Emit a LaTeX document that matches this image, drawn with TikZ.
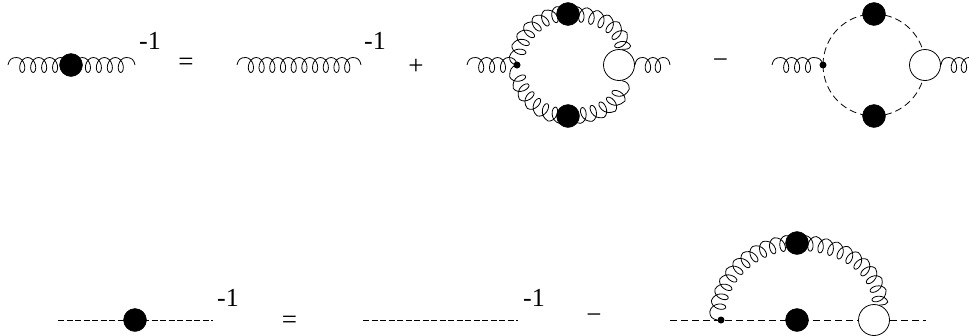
\documentclass[tikz,border=0pt]{standalone}
\usepackage{fontspec}
\setmainfont{Liberation Serif}
\usetikzlibrary{decorations,backgrounds}
\newcommand{\gluonR}{5pt}
\pgfdeclaredecoration{gluonloop}{initial}{
  \state{initial}[width=0.8*\pgfdecorationsegmentlength,next state=loop]{
    \pgfpathcurveto{\pgfpoint{0.1*\pgfdecorationsegmentlength}{0.7*\pgfdecorationsegmentamplitude}}
                   {\pgfpoint{0.3*\pgfdecorationsegmentlength}{\pgfdecorationsegmentamplitude}}
                   {\pgfpoint{0.8*\pgfdecorationsegmentlength}{\pgfdecorationsegmentamplitude}}
  }
  \state{loop}[width=\pgfdecorationsegmentlength]{
    \pgfmathsetlengthmacro\gL{\pgfdecorationsegmentlength}
    \pgfmathsetlengthmacro\gA{\pgfdecorationsegmentamplitude}
    \pgfmathsetlengthmacro\gv{\gL*0.1592}
    \pgfmathsetlengthmacro\gR{\gluonR}
    \pgfmathsetlengthmacro\gc{0.55*\gv}
    \pgfmathsetlengthmacro\gd{0.55*\gA}
    \pgfmathsetlengthmacro\gp{0.55*(\gv+\gR)}
    \pgfmathsetlengthmacro\gm{0.55*(\gv-\gR)}
    \pgfpathcurveto{\pgfpoint{\gp}{\gA}}{\pgfpoint{0.25*\gL+\gR-\gc}{\gd}}{\pgfpoint{0.25*\gL+\gR}{0pt}}
    \pgfpathcurveto{\pgfpoint{0.25*\gL+\gR+\gc}{-\gd}}{\pgfpoint{0.5*\gL-\gm}{-\gA}}{\pgfpoint{0.5*\gL}{-\gA}}
    \pgfpathcurveto{\pgfpoint{0.5*\gL+\gm}{-\gA}}{\pgfpoint{0.75*\gL-\gR-\gc}{-\gd}}{\pgfpoint{0.75*\gL-\gR}{0pt}}
    \pgfpathcurveto{\pgfpoint{0.75*\gL-\gR+\gc}{\gd}}{\pgfpoint{\gL-\gp}{\gA}}{\pgfpoint{\gL}{\gA}}
  }
  \state{final}{
    \pgfpathcurveto{\pgfpoint{0.6*\pgfdecoratedremainingdistance}{\pgfdecorationsegmentamplitude}}
                   {\pgfpoint{0.9*\pgfdecoratedremainingdistance}{0.7*\pgfdecorationsegmentamplitude}}
                   {\pgfpoint{\pgfdecoratedremainingdistance}{0pt}}
    \pgfpathlineto{\pgfpointdecoratedpathlast}
  }
}
\tikzset{
  x=1pt,y=-1pt,
  gluon/.style={line width=0.8pt,decorate,decoration={gluonloop,segment length=#1,amplitude=7.5pt}},
  gluon/.default=11pt,
  dashline/.style={line width=0.8pt,dash pattern=on 7pt off 4pt},
  dashthin/.style={line width=0.6pt,dash pattern=on 6pt off 2.5pt},
  blob/.style={circle,fill=black,draw=black,inner sep=0pt,minimum size=23pt},
  openblob/.style={circle,fill=white,draw=black,line width=0.8pt,inner sep=0pt,minimum size=31pt},
  vertexdot/.style={circle,fill=black,inner sep=0pt,minimum size=7pt},
  lab/.style={font=\fontsize{26}{26}\selectfont,inner sep=0pt},
  oplab/.style={font=\fontsize{27}{27}\selectfont,inner sep=0pt},
}
\begin{document}
\begin{tikzpicture}
\useasboundingbox (0,0) rectangle (969,335);
% row 1
\node[blob] (b1) at (71,65) {};
\coordinate (a1) at (8,65);
\coordinate (a2) at (135,65);
\node[lab] (e1) at (150,41) {-1};
\node[oplab] (eq1) at (186,64) {=};
\coordinate (c1) at (237,65);
\coordinate (c2) at (361,65);
\node[lab] (e2) at (375,41) {-1};
\node[oplab] (plus) at (416,67) {+};
\coordinate (d1) at (467,65);
\node[vertexdot] (d2) at (517,65) {};
\node[blob] (d3) at (568,14) {};
\node[blob] (d4) at (568,116) {};
\node[openblob] (d5) at (619,65) {};
\coordinate (d6) at (670,65);
\node[oplab] (minus1) at (720.5,64) {−};
\coordinate (f1) at (772,65);
\node[vertexdot] (f2) at (823,65) {};
\node[blob] (f3) at (874,14) {};
\node[blob] (f4) at (874,116) {};
\node[openblob] (f5) at (925,65) {};
\coordinate (f6) at (976,65);
% row 2
\coordinate (g1) at (58,320);
\node[blob] (g2) at (135,320) {};
\coordinate (g3) at (213,320);
\node[lab] (e3) at (228,298) {-1};
\node[oplab] (eq2) at (289.5,322) {=};
\coordinate (h1) at (363,320);
\coordinate (h2) at (518,320);
\node[lab] (e4) at (534,298) {-1};
\node[oplab] (minus2) at (594,319) {−};
\coordinate (k1) at (670,320);
\node[vertexdot] (k2) at (721,320) {};
\node[blob] (k3) at (797,320) {};
\node[openblob] (k4) at (874,320) {};
\coordinate (k5) at (926,320);
\node[blob] (k6) at (797,243) {};
\begin{scope}[on background layer]
\fill[white] (0,0) rectangle (969,335);
\draw[gluon=10.95pt] (a1) -- (a2);
\draw[gluon=10.7pt] (c1) -- (c2);
\draw[gluon=10.9pt] (d1) -- (d2.center);
\draw[gluon=10pt] (d5.east) -- (d6);
\draw[gluon=10.5pt] (d2.center) to[out=90,in=180] (d3.center);
\draw[gluon=10.5pt] (d3.center) to[out=0,in=90] (d5.80);
\draw[gluon=10.5pt] (d5.-80) to[out=-90,in=0] (d4.center);
\draw[gluon=10.5pt] (d4.center) to[out=180,in=-90] (d2.center);
\draw[gluon=10.9pt] (f1) -- (f2.center);
\begin{scope}
\clip (0,0) rectangle (969,335);
\draw[gluon=10pt] (f5.east) -- (f6);
\end{scope}
\draw[dashline] (f2.center) to[out=90,in=180] (f3.center);
\draw[dashline] (f3.center) to[out=0,in=90] (f5.center);
\draw[dashline] (f2.center) to[out=-90,in=180] (f4.center);
\draw[dashline] (f4.center) to[out=0,in=-90] (f5.center);
\draw[dashthin] (g1) -- (g3);
\draw[dashthin] (h1) -- (h2);
\draw[dashline] (k1) -- (k5);
\draw[gluon=10.5pt] (k2.west) to[out=90,in=180] (k6.center);
\draw[gluon=10.5pt] (k6.center) to[out=0,in=90] (k4.70);
\end{scope}
\end{tikzpicture}
\end{document}
